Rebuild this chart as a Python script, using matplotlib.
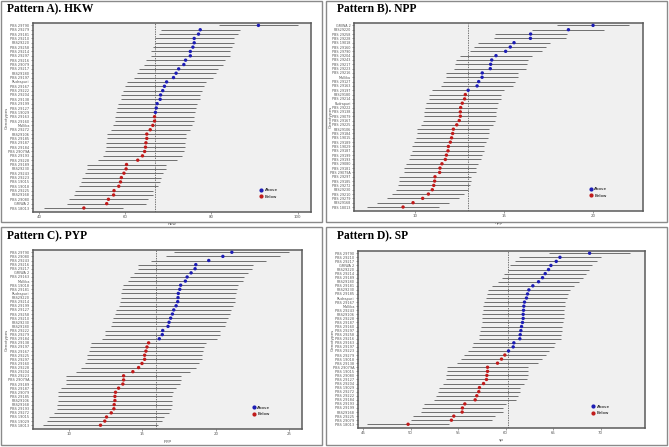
import matplotlib
matplotlib.use("Agg")
import matplotlib.pyplot as plt
from matplotlib.lines import Line2D
from matplotlib.patches import Rectangle
import numpy as np

# genotype labels per panel (top to bottom)
names_hkw = ["PBS 29790", "PBS 29279", "PBS 29181", "PBS 29210", "PBS29220", "PBS 29258", "PBS 29214",
             "PBS 29297", "PBS 29216", "PBS 29079", "PBS 29217", "PBS29180", "PBS 29197", "Rudrapuri",
             "PBS 29167", "PBS 29222", "PBS 29204", "PBS 29138", "PBS 29199", "PBS 29127", "PBS 19029",
             "PBS 29163", "PBS 29160", "Mallika", "PBS 29272", "PBS29106", "PBS 29185", "PBS 29187",
             "PBS 29184", "PBS 29079A", "PBS 29193", "PBS 29228", "PBS 29189", "PBS29230", "PBS 29243",
             "PBS 29223", "PBS 19015", "PBS 19018", "PBS 29225", "PBS29168", "PBS 29080", "GRIWA 2",
             "PBS 18013"]
names_npp = ["GRIWA 2", "PBS29220", "PBS 29258", "PBS 29228", "PBS 19018", "PBS 29160", "PBS 29790",
             "PBS 29204", "PBS 29243", "PBS 29217", "PBS 29223", "PBS 29216", "Mallika", "PBS 29127",
             "PBS 29163", "PBS 29197", "PBS29180", "PBS 29214", "Rudrapuri", "PBS 29222", "PBS 29138",
             "PBS 29079", "PBS 29167", "PBS 29225", "PBS29106", "PBS 29184", "PBS 19015", "PBS 29189",
             "PBS 19029", "PBS 29187", "PBS 29199", "PBS 29193", "PBS 29080", "PBS 29181", "PBS 29079A",
             "PBS 29297", "PBS 29185", "PBS 29272", "PBS29230", "PBS 29210", "PBS 29279", "PBS29168",
             "PBS 18013"]
names_pyp = ["PBS 29790", "PBS 29080", "PBS 29243", "PBS 29216", "PBS 29217", "GRIWA 2", "PBS 29163",
             "Mallika", "PBS 19018", "PBS 29181", "Rudrapuri", "PBS29220", "PBS 29214", "PBS 29199",
             "PBS 29127", "PBS 29258", "PBS 29210", "PBS29230", "PBS29180", "PBS 29222", "PBS 29279",
             "PBS 29184", "PBS 29138", "PBS 29197", "PBS 29167", "PBS 29225", "PBS 29297", "PBS 29160",
             "PBS 29228", "PBS 29204", "PBS 29223", "PBS 29079A", "PBS 29189", "PBS 29187", "PBS 29079",
             "PBS 29185", "PBS29106", "PBS29168", "PBS 29193", "PBS 29272", "PBS 19015", "PBS 19029",
             "PBS 18013"]
names_sp = ["PBS 29790", "PBS 29210", "PBS 29217", "GRIWA 2", "PBS29220", "PBS 29214", "PBS 29189",
            "PBS29180", "PBS 29181", "PBS29230", "PBS 29185", "Rudrapuri", "PBS 29167", "Mallika",
            "PBS 29243", "PBS29106", "PBS 29228", "PBS 29187", "PBS 29160", "PBS 29297", "PBS 29258",
            "PBS 29216", "PBS 29163", "PBS 29197", "PBS 29223", "PBS 29279", "PBS 19018", "PBS 29138",
            "PBS 29079A", "PBS 19015", "PBS 29080", "PBS 29127", "PBS 29204", "PBS 19029", "PBS 29272",
            "PBS 29222", "PBS 29184", "PBS 29193", "PBS 29199", "PBS29168", "PBS 29225", "PBS 29079",
            "PBS 18013"]

# genotype means (top to bottom)
hkw = [90.9, 77.4, 77.0, 76.0, 76.0, 75.7, 75.1, 75.1, 74.0, 73.6, 72.4, 71.8, 71.2, 69.6, 69.1,
       68.7, 68.2, 68.1, 67.4, 67.2, 67.0, 66.8, 66.8, 66.4, 65.8, 65.0, 65.0, 64.8, 64.7, 64.5,
       64.0, 62.9, 60.3, 60.2, 59.7, 59.1, 58.9, 58.5, 57.4, 57.3, 56.1, 55.7, 50.4]
npp = [20.0, 18.62, 16.50, 16.49, 15.57, 15.36, 15.10, 14.56, 14.32, 14.26, 14.24, 13.79, 13.78,
       13.59, 13.50, 13.00, 12.84, 12.80, 12.67, 12.58, 12.56, 12.56, 12.50, 12.36, 12.17, 12.13,
       12.07, 12.00, 11.89, 11.87, 11.78, 11.72, 11.53, 11.42, 11.40, 11.14, 11.12, 11.07, 10.99,
       10.77, 10.45, 9.91, 9.35]
pyp = [21.09, 20.48, 19.52, 18.64, 18.59, 18.32, 18.05, 17.93, 17.61, 17.55, 17.45, 17.43, 17.41,
       17.30, 17.14, 17.05, 16.93, 16.82, 16.75, 16.39, 16.36, 16.16, 15.43, 15.32, 15.25, 15.16,
       15.16, 14.98, 14.75, 14.36, 13.73, 13.73, 13.68, 13.39, 13.18, 13.14, 13.14, 13.09, 13.07,
       12.89, 12.57, 12.45, 12.16]
sp = [68.84, 65.72, 65.33, 64.77, 64.52, 64.17, 63.89, 63.47, 62.87, 62.45, 62.31, 62.20, 61.99,
      61.92, 61.89, 61.85, 61.85, 61.78, 61.68, 61.61, 61.54, 61.50, 60.87, 60.80, 60.31, 59.92,
      59.57, 59.15, 58.10, 58.10, 58.03, 57.99, 57.68, 57.25, 57.18, 56.97, 56.80, 55.71, 55.46,
      55.43, 54.55, 54.30, 49.74]

# interval half widths and grand means (dashed line)
margins = [9.15, 2.02, 3.9, 4.3]
grand = [66.95, 12.98, 15.9, 60.27]

panel_titles = ["Pattern A). HKW", "Pattern B). NPP", "Pattern C). PYP", "Pattern D). SP"]
xlabels = ["hkw", "npp", "pyp", "sp"]
xticks = [[40, 60, 80, 100], [10, 15, 20], [10, 15, 20, 25], [45, 50, 55, 60, 65, 70]]
xlims = [(38.6, 103.1), (6.6, 22.8), (7.57, 25.86), (44.47, 74.67)]

W, H = 669, 447
fig = plt.figure(figsize=(W / 100, H / 100), dpi=100)

# axes boxes in pixels: left, top, right, bottom
boxes = [(33, 23, 311, 212), (354, 23, 643, 211), (33, 250, 302, 429), (358, 251, 645, 428)]
cells = [(1, 1, 322, 222), (326, 1, 667, 222), (1, 227, 322, 445), (326, 227, 667, 445)]
title_pos = [(7, 9), (337, 9), (7, 236), (337, 236)]
ylab_x = [7, 331, 7, 333]
tick_fs = [2.5, 2.4, 2.5, 2.5]

for (l, t, r, b) in cells:
    fig.add_artist(Rectangle((l / W, 1 - b / H), (r - l) / W, (b - t) / H, transform=fig.transFigure,
                             fill=False, edgecolor="#8a8a8a", lw=1.0))

data = [(names_hkw, hkw), (names_npp, npp), (names_pyp, pyp), (names_sp, sp)]
blue, red = "#1c1cb4", "#c01a1a"
txt = "#555555"

for i, (names, vals) in enumerate(data):
    l, t, r, b = boxes[i]
    ax = fig.add_axes([l / W, 1 - b / H, (r - l) / W, (b - t) / H])
    ax.set_facecolor("#f0f0f0")
    vals = np.array(vals)
    n = len(vals)
    y = np.arange(n, 0, -1)
    ax.hlines(y, vals - margins[i], vals + margins[i], color="#6e6e6e", lw=0.7, zorder=2)
    ax.axvline(grand[i], color="#444444", ls=(0, (2, 1.5)), lw=0.5, zorder=1)
    cols = [blue if v > grand[i] else red for v in vals]
    ax.scatter(vals, y, s=6, c=cols, zorder=3, linewidths=0)
    ax.set_ylim(0.08, n + 0.55)
    ax.set_xlim(*xlims[i])
    ax.set_yticks(y)
    ax.set_yticklabels(names)
    ax.set_xticks(xticks[i])
    ax.tick_params(axis="y", labelsize=tick_fs[i], length=1.5, width=0.4, colors=txt, pad=1)
    ax.tick_params(axis="x", labelsize=2.8, length=1.5, width=0.4, colors=txt, pad=1)
    ax.set_xlabel(xlabels[i], fontsize=3.2, color=txt, labelpad=2)
    for s in ax.spines.values():
        s.set_color("#5a5a5a")
        s.set_linewidth(1.1)
    handles = [Line2D([], [], marker="o", ls="", color=blue, markersize=2, label="Above"),
               Line2D([], [], marker="o", ls="", color=red, markersize=2, label="Below")]
    ax.legend(handles=handles, loc="lower left", bbox_to_anchor=(0.8, 0.05), frameon=False,
              fontsize=3, handletextpad=0.3, labelspacing=0.6, handlelength=1)
    # y axis title sits near the left edge of the cell
    fig.text(ylab_x[i] / W, 1 - (t + b) / 2 / H, "Genotypes", rotation=90, fontsize=3.0,
             color=txt, ha="center", va="center")
    tx, ty = title_pos[i]
    fig.text(tx / W, 1 - ty / H, panel_titles[i], fontsize=8.3, fontweight="bold",
             family="Liberation Serif", va="center", ha="left")

fig.savefig("out.png", dpi=100)
